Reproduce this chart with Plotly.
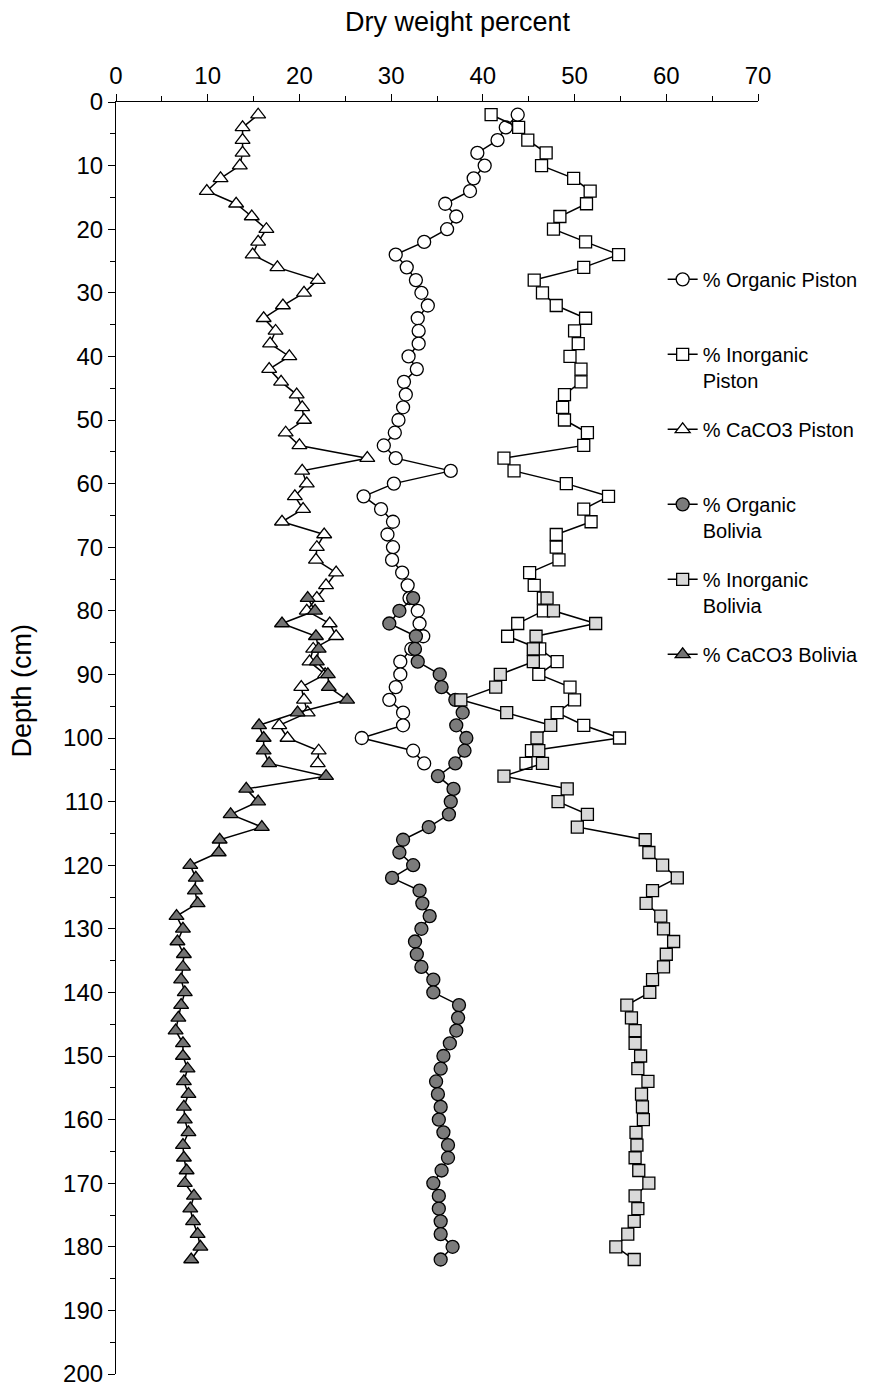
import plotly.graph_objects as go

# ---------------- data ----------------
depth_piston = [2, 4, 6, 8, 10, 12, 14, 16, 18, 20, 22, 24, 26, 28, 30, 32, 34, 36, 38, 40,
                42, 44, 46, 48, 50, 52, 54, 56, 58, 60, 62, 64, 66, 68, 70, 72, 74, 76, 78, 80,
                82, 84, 86, 88, 90, 92, 94, 96, 98, 100, 102, 104]

organic_piston = [43.8, 42.5, 41.6, 39.4, 40.2, 39.0, 38.6, 35.9, 37.1, 36.1, 33.6, 30.5, 31.7,
                  32.7, 33.3, 34.0, 32.9, 33.0, 33.0, 31.9, 32.8, 31.4, 31.6, 31.3, 30.8, 30.4,
                  29.2, 30.5, 36.5, 30.3, 27.0, 28.9, 30.2, 29.6, 30.2, 30.1, 31.2, 31.8, 32.0,
                  32.9, 33.1, 33.5, 32.2, 31.0, 31.0, 30.5, 29.8, 31.3, 31.3, 26.8, 32.4, 33.6]

inorganic_piston = [40.9, 43.9, 44.9, 46.9, 46.4, 49.9, 51.7, 51.3, 48.4, 47.7, 51.2, 54.8, 51.0,
                    45.6, 46.5, 48.0, 51.2, 50.0, 50.4, 49.5, 50.7, 50.7, 48.9, 48.7, 48.9, 51.4,
                    51.0, 42.3, 43.4, 49.1, 53.7, 51.0, 51.8, 48.0, 48.0, 48.3, 45.1, 45.6, 46.6,
                    46.6, 43.8, 42.7, 46.2, 48.1, 46.1, 49.5, 50.0, 48.1, 51.0, 54.9, 45.3, 44.7]

caco3_piston = [15.5, 13.8, 13.8, 13.8, 13.5, 11.4, 9.9, 13.1, 14.8, 16.4, 15.5, 14.9, 17.6,
                22.0, 20.5, 18.2, 16.1, 17.4, 16.8, 18.9, 16.7, 18.0, 19.7, 20.3, 20.5, 18.5,
                20.0, 27.4, 20.3, 20.8, 19.5, 20.4, 18.1, 22.7, 21.9, 21.8, 24.0, 22.9, 21.9,
                20.8, 23.3, 24.0, 21.5, 21.1, 22.8, 20.2, 20.5, 20.9, 17.8, 18.7, 22.1, 22.0]

depth_bolivia = [78, 80, 82, 84, 86, 88, 90, 92, 94, 96, 98, 100, 102, 104, 106, 108, 110, 112,
                 114, 116, 118, 120, 122, 124, 126, 128, 130, 132, 134, 136, 138, 140, 142, 144,
                 146, 148, 150, 152, 154, 156, 158, 160, 162, 164, 166, 168, 170, 172, 174, 176,
                 178, 180, 182]

organic_bolivia = [32.4, 30.9, 29.8, 32.7, 32.6, 32.9, 35.3, 35.5, 37.0, 37.8, 37.1, 38.2, 38.0,
                   37.0, 35.1, 36.8, 36.5, 36.3, 34.1, 31.3, 30.9, 32.4, 30.1, 33.1, 33.4, 34.2,
                   33.3, 32.6, 32.8, 33.3, 34.6, 34.6, 37.4, 37.3, 37.1, 36.4, 35.7, 35.4, 34.9,
                   35.1, 35.4, 35.2, 35.7, 36.2, 36.2, 35.5, 34.6, 35.2, 35.2, 35.4, 35.4, 36.7,
                   35.4]

inorganic_bolivia = [47.0, 47.7, 52.3, 45.8, 45.5, 45.5, 41.9, 41.4, 37.6, 42.6, 47.4, 45.9, 46.1,
                     46.5, 42.3, 49.2, 48.2, 51.4, 50.3, 57.7, 58.1, 59.6, 61.2, 58.5, 57.8, 59.4,
                     59.7, 60.8, 60.0, 59.7, 58.5, 58.2, 55.7, 56.2, 56.6, 56.6, 57.2, 56.9, 58.0,
                     57.3, 57.4, 57.5, 56.7, 56.8, 56.6, 57.0, 58.1, 56.6, 56.9, 56.5, 55.8, 54.5,
                     56.5]

caco3_bolivia = [20.9, 21.7, 18.1, 21.8, 22.1, 21.9, 23.1, 23.2, 25.2, 19.8, 15.6, 16.1, 16.1,
                 16.7, 22.9, 14.2, 15.5, 12.5, 15.9, 11.3, 11.2, 8.1, 8.7, 8.6, 8.9, 6.6, 7.3,
                 6.7, 7.4, 7.3, 7.1, 7.5, 7.1, 6.8, 6.5, 7.3, 7.3, 7.8, 7.4, 7.9, 7.4, 7.5, 7.9,
                 7.3, 7.4, 7.7, 7.5, 8.5, 8.1, 8.4, 8.9, 9.2, 8.2]

x_ticks = [0, 10, 20, 30, 40, 50, 60, 70]
y_ticks = list(range(0, 201, 10))

FONT = "Liberation Sans, Arial, sans-serif"

series = [
    ("% Organic Piston<br>\u00a0", depth_piston, organic_piston, "circle", 13, "white"),
    ("% Inorganic<br>Piston", depth_piston, inorganic_piston, "square", 12, "white"),
    ("% CaCO3 Piston<br>\u00a0", depth_piston, caco3_piston, "triangle-up", 13, "white"),
    ("% Organic<br>Bolivia", depth_bolivia, organic_bolivia, "circle", 13, "#7b7b7b"),
    ("% Inorganic<br>Bolivia", depth_bolivia, inorganic_bolivia, "square", 12, "#d9d9d9"),
    ("% CaCO3 Bolivia<br>\u00a0", depth_bolivia, caco3_bolivia, "triangle-up", 13, "#737373"),
]

fig = go.Figure()
for i, (name, d, v, sym, sz, fill) in enumerate(series):
    fig.add_trace(go.Scatter(
        x=v, y=d, name=name, mode="lines+markers",
        legendgroup="g%d" % i,
        line=dict(color="black", width=1.5),
        marker=dict(symbol=sym, size=sz, color=fill,
                    line=dict(color="black", width=1.3)),
    ))

# the page body adds an 8px offset, so the figure is 8px smaller than the window
fig.update_layout(
    width=869, height=1381,
    margin=dict(l=108, r=119, t=94, b=15),
    plot_bgcolor="white", paper_bgcolor="white",
    font=dict(family=FONT, size=22, color="black"),
    showlegend=True,
    legend=dict(
        x=0.8515, xanchor="left", y=0.8759, yanchor="top",
        font=dict(family=FONT, size=20, color="black"),
        tracegroupgap=20, valign="top",
        bgcolor="rgba(0,0,0,0)",
    ),
    xaxis=dict(
        range=[0, 70], side="top", tickvals=x_ticks, automargin=False,
        showline=True, linecolor="black", linewidth=1.2,
        ticks="outside", ticklen=7, tickcolor="black", tickwidth=1.2,
        minor=dict(dtick=5, ticks="outside", ticklen=5, tickcolor="black", tickwidth=1),
        showgrid=False, zeroline=False,
        tickfont=dict(family=FONT, size=24),
    ),
    yaxis=dict(
        range=[200, 0], tickvals=y_ticks, automargin=False,
        showline=True, linecolor="black", linewidth=1.2,
        ticks="outside", ticklen=7, tickcolor="black", tickwidth=1.2,
        minor=dict(dtick=5, ticks="outside", ticklen=5, tickcolor="black", tickwidth=1),
        showgrid=False, zeroline=False,
        tickfont=dict(family=FONT, size=24),
    ),
    annotations=[
        dict(text="Dry weight percent", xref="paper", yref="paper",
             x=0.533, y=1.0629, xanchor="center", yanchor="middle",
             showarrow=False, font=dict(family=FONT, size=27)),
        dict(text="Depth (cm)", xref="paper", yref="paper",
             x=-0.146, y=0.5375, xanchor="center", yanchor="middle",
             textangle=-90, showarrow=False, font=dict(family=FONT, size=27)),
    ],
)

fig.write_html("out.html")
